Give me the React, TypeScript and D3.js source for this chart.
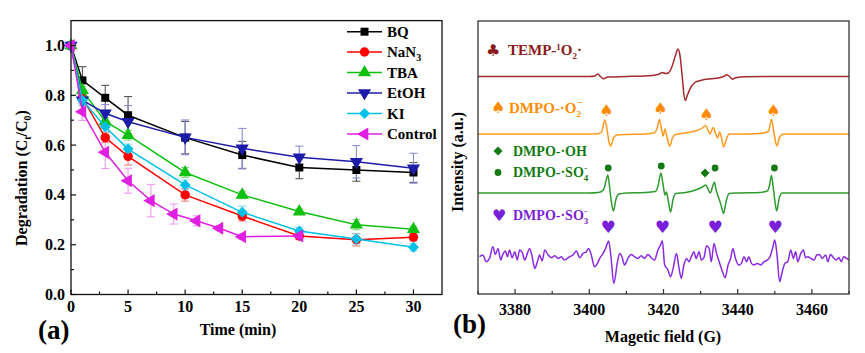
import React from 'react';
import * as d3 from 'd3';

// ---- panel (a): degradation vs time ----
const times = [0, 1, 3, 5, 10, 15, 20, 25, 30];
const controlTimes = [0, 1, 3, 5, 7, 9, 11, 13, 15, 20];

const bq = [1.0, 0.86, 0.79, 0.72, 0.63, 0.56, 0.51, 0.5, 0.49];
const nan3 = [1.0, 0.79, 0.63, 0.555, 0.4, 0.315, 0.235, 0.22, 0.23];
const tba = [1.0, 0.82, 0.695, 0.64, 0.49, 0.4, 0.333, 0.28, 0.262];
const etoh = [1.0, 0.78, 0.728, 0.694, 0.631, 0.587, 0.551, 0.533, 0.507];
const ki = [1.0, 0.78, 0.674, 0.584, 0.44, 0.33, 0.255, 0.223, 0.19];
const control = [1.0, 0.734, 0.571, 0.457, 0.377, 0.323, 0.296, 0.266, 0.232, 0.235];

const bqErr = [0, 0.055, 0.05, 0.075, 0.065, 0.055, 0.045, 0.045, 0.04];
const nan3Err = [0, 0.02, 0.02, 0.035, 0.025, 0.02, 0.015, 0.025, 0.015];
const tbaErr = [0, 0.015, 0.015, 0.02, 0.02, 0.015, 0.01, 0.02, 0.01];
const etohErr = [0, 0.02, 0.035, 0.065, 0.07, 0.08, 0.045, 0.065, 0.06];
const kiErr = [0, 0.02, 0.02, 0.02, 0.02, 0.025, 0.015, 0.02, 0.015];
const controlErr = [0, 0.035, 0.065, 0.05, 0.065, 0.04, 0.02, 0.01, 0.01, 0.01];

const xTicksA = [0, 5, 10, 15, 20, 25, 30];
const yTicksA = [0, 0.2, 0.4, 0.6, 0.8, 1.0];

// ---- panel (b): EPR spectra, [field (G), intensity (a.u.)] ----
const tempTrace: [number, number][] = [
  [3370, 0], [3400, 0], [3401.5, 0.5], [3402.3, 2.5], [3403, 0], [3403.8, -2.3], [3405, -0.5],
  [3410, 0], [3415, 0.5], [3418.5, 2], [3419.7, 4], [3420.5, 3], [3421.3, 3.5], [3422.3, 10],
  [3423.3, 22], [3423.9, 27.5], [3424.4, 22], [3425, 2], [3425.5, -18], [3425.9, -24],
  [3426.5, -18], [3427.5, -10], [3428.5, -6], [3429.5, -4.5], [3431, -3], [3433, -2.2],
  [3435, -1.2], [3436.5, 0.5], [3437, 1.8], [3437.8, 0], [3438.6, -2.8], [3439.5, -1.2],
  [3442, -0.3], [3450, 0], [3470, 0],
];

const o2Trace: [number, number][] = [
  [3370, 0], [3402, 0], [3403.3, 2], [3404.2, 14], [3404.8, 4], [3405.3, -8], [3405.8, -12],
  [3406.5, -4], [3407.5, -1], [3410, -0.5], [3415, 0], [3417.5, 1], [3418.3, 6], [3418.9, 14.5],
  [3419.5, 4], [3419.9, -2], [3420.4, 5], [3421, -4], [3421.7, -12], [3422.4, -4], [3423.3, -0.5],
  [3426, 1], [3429, 3.5], [3430.5, 6], [3431.3, 8.5], [3432, 4], [3432.5, 0], [3433.4, 6.5],
  [3434, 1], [3434.6, -4], [3435.1, 2], [3435.6, -3], [3436.2, -13], [3436.9, -6], [3437.7, 0],
  [3440, 0], [3446, 0.5], [3448.3, 2.5], [3449.1, 14.5], [3449.7, 3], [3450.2, -8], [3450.6, -12],
  [3451.3, -3], [3452.5, 0], [3470, 0],
];

const so4Trace: [number, number][] = [
  [3370, 0], [3400, 0], [3402.5, 0.5], [3403.8, 3], [3404.5, 12], [3405, 18], [3405.5, 5],
  [3406, -10], [3406.5, -18], [3407.2, -6], [3408, -1], [3410, 0], [3415, 0.5], [3417.8, 1.5],
  [3418.6, 8], [3419.3, 20], [3419.9, 8], [3420.4, -2], [3420.8, 1], [3421.3, -8], [3421.9, -19],
  [3422.6, -6], [3423.3, -0.5], [3426, 0.5], [3429, 3.5], [3430.5, 6], [3431.4, 8], [3432, 4],
  [3432.6, 0], [3433.2, 6], [3433.7, 11], [3434.2, 3], [3434.8, -4], [3435.5, -12], [3436.2, -20.5],
  [3436.9, -8], [3437.7, -0.5], [3440, 0], [3446, 0.5], [3448, 2], [3448.6, 8], [3449.1, 17.5],
  [3449.6, 5], [3450.1, -10], [3450.5, -18], [3451.2, -5], [3452, 0], [3470, 0],
];

const so3Trace: [number, number][] = [
  [3370.4, 0], [3371.3, 1.7], [3372.2, -5], [3373.1, -1.7], [3374.0, 10], [3374.7, 2.3],
  [3375.4, 8.3], [3376.1, -3.3], [3376.7, 2.3], [3377.4, 5.7], [3377.9, 0], [3378.5, 6.7],
  [3379.2, -1], [3379.9, 5], [3380.6, -3.3], [3381.2, 6.7], [3381.9, 4.3], [3382.6, -3.3],
  [3383.3, 3.3], [3383.9, 8.3], [3384.6, 0], [3385.3, -11.7], [3386.0, -5], [3386.6, 1.7],
  [3387.3, -4.3], [3388.0, 6.7], [3388.9, 1.7], [3389.8, -1], [3390.7, 1], [3391.6, -1.7],
  [3392.5, 0], [3393.2, -3.3], [3393.8, -2.3], [3394.7, 0], [3395.6, 1.7], [3396.5, 5.7],
  [3397.4, -1], [3398.3, 3.3], [3399.2, 5], [3399.8, 8.3], [3400.5, 2.3], [3401.4, -10],
  [3402.2, -6.7], [3402.8, -1.7], [3403.7, 3.3], [3404.4, 8.3], [3405.2, 15.7], [3405.8, 1.7],
  [3406.6, -26.7], [3407.6, -5], [3408.2, 3.3], [3408.8, 0], [3409.5, -8.3], [3410.4, -1.7],
  [3411.3, 2.3], [3412.2, 0], [3413.1, -1.7], [3414.0, 1], [3414.9, -1.7], [3415.8, 2.3],
  [3416.7, -1], [3417.6, -3.3], [3418.5, 6.7], [3419.2, 11.7], [3419.7, 16], [3420.3, -8],
  [3421.2, -13.3], [3421.9, -20], [3422.6, -11.7], [3423.5, 3.3], [3424.2, -11.7], [3424.8, -21.7],
  [3425.5, -8.3], [3426.2, -1.7], [3426.9, -5], [3427.5, 0], [3428.2, 5], [3428.8, -1.7],
  [3429.6, 5], [3430.2, -3.3], [3430.9, -1], [3431.6, 11], [3432.3, 8.3], [3432.9, -5],
  [3433.6, 13.3], [3434.3, 3.3], [3435.0, -5], [3435.9, -15], [3436.6, -21], [3437.4, -8.3],
  [3438.1, -1.7], [3438.7, 8.3], [3439.4, -1.7], [3440.3, -8.3], [3441.0, -6.7], [3441.7, 0],
  [3442.4, -5], [3443.0, 0], [3443.7, -6.7], [3444.4, -8.3], [3445.3, -6.7], [3446.2, -8.3],
  [3447.1, -5], [3448.0, -3.3], [3448.7, 0], [3449.4, 8.3], [3450.0, 16.7], [3450.6, 1.7],
  [3451.3, -25], [3452.0, -15], [3452.7, -6.7], [3453.5, -5], [3454.3, 6.7], [3455.0, -1.7],
  [3455.6, 5], [3456.2, -5], [3457.0, 3.3], [3457.7, 6.7], [3458.3, -1], [3458.9, 0],
  [3459.7, -1.7], [3460.6, -3.3], [3461.3, 1.7], [3462.0, 2.3], [3462.8, -1.7], [3463.7, 1.7],
  [3464.3, -5], [3465.0, 2.3], [3465.8, -1], [3466.5, -3.3], [3467.3, -1], [3467.9, -5],
  [3468.6, 0], [3469.4, -1.7], [3470, -3.3],
];

// peak markers: [field, height above trace baseline]
const o2Marks: [number, number][] = [[3404.6, 24], [3419.2, 26], [3431.6, 20], [3449.6, 24]];
const so4Dots: [number, number][] = [[3405.1, 25], [3419.4, 27], [3433.9, 25], [3449.9, 25]];
const ohMarks: [number, number][] = [[3431.2, 20]];
const so3Marks: [number, number][] = [[3405.1, 29.5], [3419.7, 29.5], [3433.9, 29.5], [3450.1, 29.5]];

const xTicksB = [3380, 3400, 3420, 3440, 3460];
const xMinorB = [3370, 3390, 3410, 3430, 3450, 3470];

const SERIF = '"Liberation Serif", "Times New Roman", serif';
const SYM = '"DejaVu Sans", sans-serif';

type Series = {
  name: string;
  color: string;
  errColor: string;
  x: number[];
  y: number[];
  err: number[];
  symbol: d3.SymbolType;
  rotate: number;
  size: number;
};

const series: Series[] = [
  { name: 'BQ', color: '#000000', errColor: '#555555', x: times, y: bq, err: bqErr, symbol: d3.symbolSquare, rotate: 0, size: 64 },
  { name: 'NaN3', color: '#ff0000', errColor: '#f28080', x: times, y: nan3, err: nan3Err, symbol: d3.symbolCircle, rotate: 0, size: 70 },
  { name: 'TBA', color: '#10c010', errColor: '#80d880', x: times, y: tba, err: tbaErr, symbol: d3.symbolTriangle, rotate: 0, size: 75 },
  { name: 'EtOH', color: '#1c1ca8', errColor: '#8c8cd6', x: times, y: etoh, err: etohErr, symbol: d3.symbolTriangle, rotate: 180, size: 75 },
  { name: 'KI', color: '#00c0e8', errColor: '#80dff2', x: times, y: ki, err: kiErr, symbol: d3.symbolSquare, rotate: 45, size: 60 },
  { name: 'Control', color: '#e020e0', errColor: '#f29af2', x: controlTimes, y: control, err: controlErr, symbol: d3.symbolTriangle, rotate: -90, size: 75 },
];

const App: React.FC = () => {
  const W = 865;
  const H = 353;

  // scales, panel (a)
  const xA = d3.scaleLinear().domain([0, 32.5]).range([71, 442]);
  const yA = d3.scaleLinear().domain([0, 1.1]).range([294.5, 20.6]);
  // scales, panel (b)
  const xB = d3.scaleLinear().domain([3370, 3470]).range([478, 849]);
  const yB = d3.scaleLinear().domain([0, 273]).range([294, 21]);

  const line = d3.line<[number, number]>()
    .x(d => xA(d[0]))
    .y(d => yA(d[1]));

  const traceLine = (offset: number) =>
    d3.line<[number, number]>()
      .x(d => xB(d[0]))
      .y(d => yB(offset + d[1]))
      .curve(d3.curveMonotoneX);

  const traces = [
    { data: tempTrace, offset: 217.5, color: '#a32a2e' },
    { data: o2Trace, offset: 160, color: '#ff9a1e' },
    { data: so4Trace, offset: 101, color: '#2f9a2f' },
    { data: so3Trace, offset: 37.3, color: '#8a2be2' },
  ];

  const sym = (s: Series) => d3.symbol().type(s.symbol).size(s.size)() || '';

  const xMinorA = d3.range(2.5, 32.5, 5);
  const yMinorA = d3.range(0.1, 1.1, 0.2);

  const legendY = [31.7, 52, 72.5, 93, 113.5, 134];

  return (
    <div style={{ position: 'fixed', left: 0, top: 0 }}>
      <svg width={W} height={H} style={{ display: 'block', background: '#fff' }} fontFamily={SERIF} fontWeight="bold">
        {/* ===== panel (a) ===== */}
        <g>
          {/* error bars */}
          {series.map(s => (
            <g key={s.name + '-err'} stroke={s.errColor} strokeWidth={1.1}>
              {s.x.map((t, i) => s.err[i] > 0 ? (
                <g key={i}>
                  <line x1={xA(t)} x2={xA(t)} y1={yA(s.y[i] + s.err[i])} y2={yA(s.y[i] - s.err[i])} />
                  <line x1={xA(t) - 4} x2={xA(t) + 4} y1={yA(s.y[i] + s.err[i])} y2={yA(s.y[i] + s.err[i])} />
                  <line x1={xA(t) - 4} x2={xA(t) + 4} y1={yA(s.y[i] - s.err[i])} y2={yA(s.y[i] - s.err[i])} />
                </g>
              ) : null)}
            </g>
          ))}
          {/* lines + markers */}
          {series.map(s => (
            <g key={s.name}>
              <path d={line(s.x.map((t, i) => [t, s.y[i]] as [number, number])) || ''} fill="none" stroke={s.color} strokeWidth={1.5} />
              {s.x.map((t, i) => (
                <path key={i} d={sym(s)} fill={s.color}
                  transform={`translate(${xA(t)},${yA(s.y[i])}) rotate(${s.rotate})`} />
              ))}
            </g>
          ))}

          {/* frame */}
          <rect x={71} y={20.6} width={371} height={273.9} fill="none" stroke="#111" strokeWidth={1.3} />

          {/* ticks */}
          <g stroke="#111" strokeWidth={1.2}>
            {xTicksA.map(t => <line key={'xa' + t} x1={xA(t)} x2={xA(t)} y1={294.5} y2={289.5} />)}
            {xMinorA.map(t => <line key={'xm' + t} x1={xA(t)} x2={xA(t)} y1={294.5} y2={291.5} />)}
            {yTicksA.map(t => <line key={'ya' + t} x1={71} x2={76} y1={yA(t)} y2={yA(t)} />)}
            {yMinorA.map(t => <line key={'ym' + t} x1={71} x2={74} y1={yA(t)} y2={yA(t)} />)}
          </g>
          {xTicksA.map(t => (
            <text key={'xl' + t} x={xA(t)} y={311.5} textAnchor="middle" fontSize={16}>{t}</text>
          ))}
          {yTicksA.map(t => (
            <text key={'yl' + t} x={65} y={yA(t) + 5.5} textAnchor="end" fontSize={16}>{t.toFixed(1)}</text>
          ))}

          <text x={238} y={335} textAnchor="middle" fontSize={16}>Time (min)</text>
          <text transform="translate(27,178) rotate(-90)" textAnchor="middle" fontSize={16}>
            Degradation (C<tspan fontSize={10} dy={4}>t</tspan><tspan dy={-4}>/C</tspan><tspan fontSize={10} dy={4}>0</tspan><tspan dy={-4}>)</tspan>
          </text>
          <text x={38} y={339} fontSize={27}>(a)</text>

          {/* legend */}
          {series.map((s, i) => (
            <g key={'lg' + s.name}>
              <line x1={347} x2={382} y1={legendY[i]} y2={legendY[i]} stroke={s.color} strokeWidth={1.5} />
              <path d={sym(s)} fill={s.color} transform={`translate(364.5,${legendY[i]}) rotate(${s.rotate})`} />
              <text x={387} y={legendY[i] + 5} fontSize={15}>
                {s.name === 'NaN3' ? (<>NaN<tspan fontSize={10} dy={4}>3</tspan></>) : s.name}
              </text>
            </g>
          ))}
        </g>

        {/* ===== panel (b) ===== */}
        <g>
          {traces.map((t, i) => (
            <path key={'tr' + i} d={traceLine(t.offset)(t.data) || ''} fill="none" stroke={t.color} strokeWidth={1.5} />
          ))}

          {/* peak markers */}
          {o2Marks.map((m, i) => (
            <text key={'o2m' + i} x={xB(m[0])} y={yB(160 + m[1]) + 6} textAnchor="middle" fontFamily={SYM} fontSize={16} fill="#ff8c00">♠</text>
          ))}
          {so4Dots.map((m, i) => (
            <circle key={'so4m' + i} cx={xB(m[0])} cy={yB(101 + m[1])} r={3.4} fill="#137a13" />
          ))}
          {ohMarks.map((m, i) => (
            <path key={'ohm' + i} d={d3.symbol().type(d3.symbolSquare).size(40)() || ''} fill="#137a13"
              transform={`translate(${xB(m[0])},${yB(101 + m[1])}) rotate(45)`} />
          ))}
          {so3Marks.map((m, i) => (
            <text key={'so3m' + i} x={xB(m[0])} y={yB(37.3 + m[1]) + 6} textAnchor="middle" fontFamily={SYM} fontSize={17} fill="#7a1fd8">♥</text>
          ))}

          {/* labels */}
          <text x={486} y={56} fontFamily={SYM} fontSize={16} fill="#8b1a1a">♣</text>
          <text x={508} y={55} fontSize={15} fill="#8b1a1a">
            TEMP-<tspan fontSize={9} dy={-5}>1</tspan><tspan dy={5}>O</tspan><tspan fontSize={9} dy={4}>2</tspan><tspan dy={-4}>·</tspan>
          </text>

          <text x={491} y={113} fontFamily={SYM} fontSize={16} fill="#ff8c00">♠</text>
          <text x={509} y={113} fontSize={15} fill="#ff8c00">
            DMPO-·O<tspan fontSize={9} dy={4}>2</tspan><tspan fontSize={10} dx={-4} dy={-11}>−</tspan>
          </text>

          <path d={d3.symbol().type(d3.symbolSquare).size(40)() || ''} fill="#137a13" transform="translate(498,151) rotate(45)" />
          <text x={513} y={156} fontSize={14} fill="#137a13">DMPO-·OH</text>

          <circle cx={498} cy={172.5} r={3.4} fill="#137a13" />
          <text x={513} y={177} fontSize={14} fill="#137a13">
            DMPO-·SO<tspan fontSize={9} dy={4}>4</tspan><tspan fontSize={9} dx={-4} dy={-10}>-</tspan>
          </text>

          <text x={492} y={221} fontFamily={SYM} fontSize={16} fill="#7a1fd8">♥</text>
          <text x={513} y={220} fontSize={14} fill="#7a1fd8">
            DMPO-·SO<tspan fontSize={9} dy={4}>3</tspan><tspan fontSize={9} dx={-4} dy={-10}>-</tspan>
          </text>

          {/* frame */}
          <rect x={478} y={21} width={371} height={273} fill="none" stroke="#333" strokeWidth={1.3} />
          <g stroke="#333" strokeWidth={1.2}>
            {xTicksB.map(t => <line key={'xb' + t} x1={xB(t)} x2={xB(t)} y1={294} y2={289} />)}
            {xMinorB.map(t => <line key={'xbm' + t} x1={xB(t)} x2={xB(t)} y1={294} y2={291} />)}
          </g>
          {xTicksB.map(t => (
            <text key={'xbl' + t} x={xB(t)} y={315} textAnchor="middle" fontSize={16}>{t}</text>
          ))}
          <text x={663} y={342} textAnchor="middle" fontSize={16}>Magetic field (G)</text>
          <text transform="translate(463,162) rotate(-90)" textAnchor="middle" fontSize={16}>Intensity (a.u.)</text>
          <text x={453} y={333} fontSize={27}>(b)</text>
        </g>
      </svg>
    </div>
  );
};

export default App;
